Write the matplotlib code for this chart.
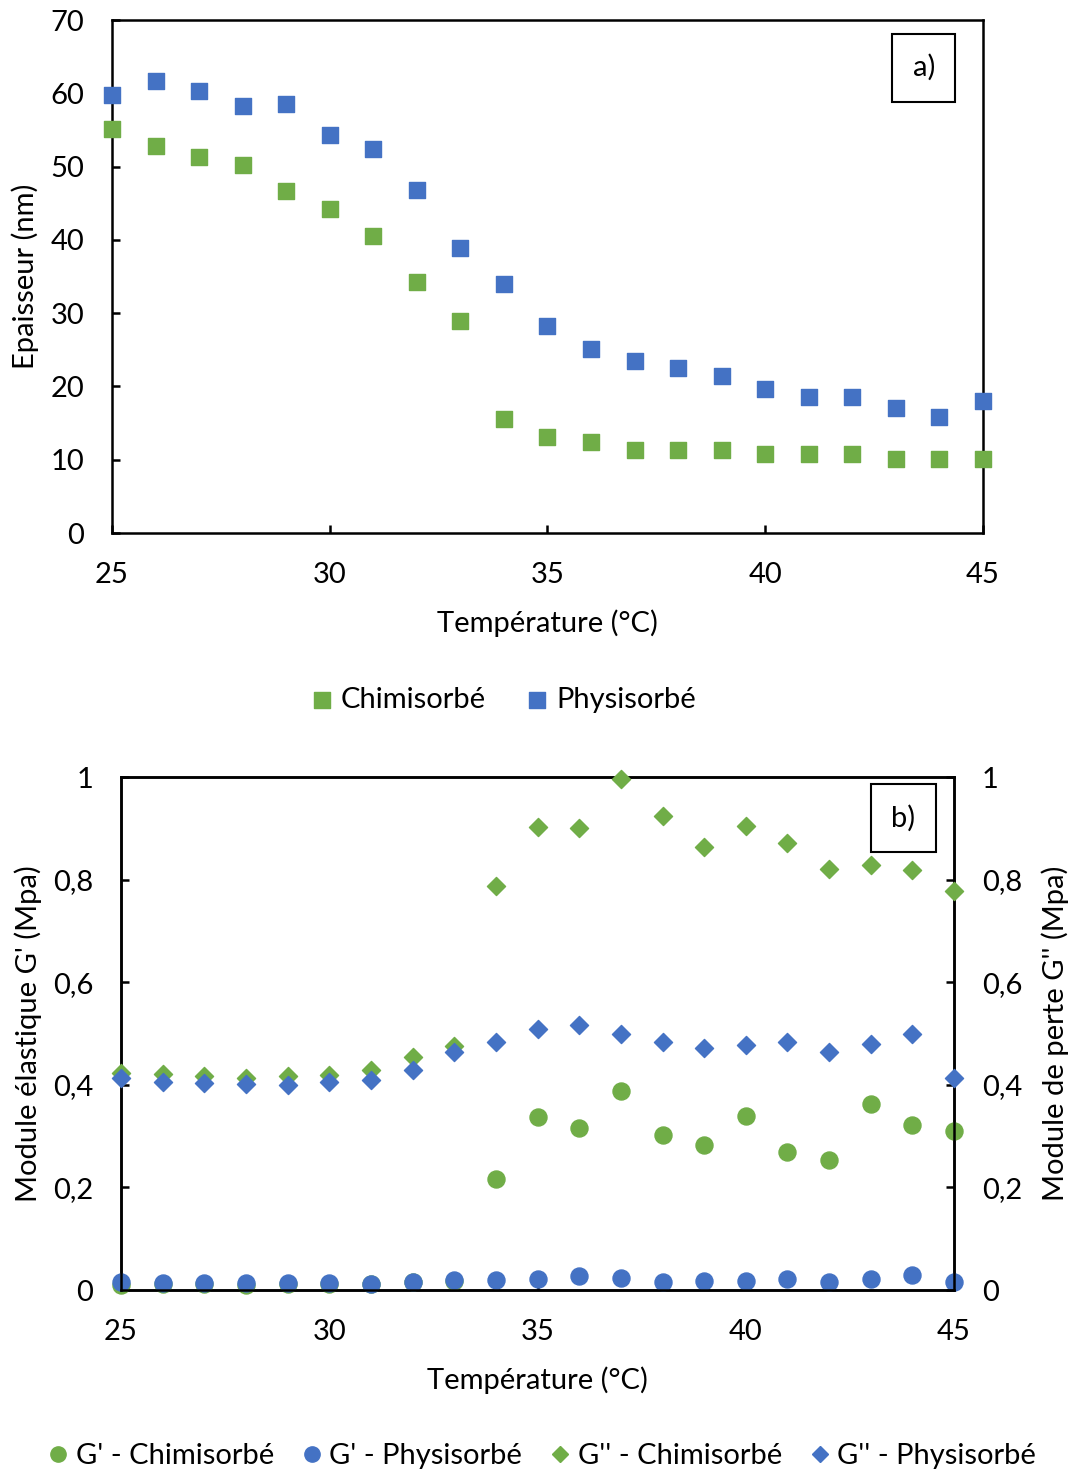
import matplotlib.pyplot as plt
from matplotlib.lines import Line2D

plt.rcParams['font.family'] = ['Lato', 'DejaVu Sans']

GREEN = "#70AD47"
BLUE = "#4472C4"

# ---------------- data ----------------
temp = list(range(25, 46))

# panel a) thickness (nm)
ep_chimi = [55.1, 52.8, 51.3, 50.2, 46.7, 44.2, 40.5, 34.2, 28.9, 15.6, 13.1,
            12.4, 11.3, 11.3, 11.3, 10.8, 10.8, 10.8, 10.1, 10.1, 10.1]
ep_physi = [59.8, 61.7, 60.3, 58.3, 58.5, 54.3, 52.4, 46.8, 38.9, 34.0, 28.2,
            25.1, 23.5, 22.5, 21.4, 19.6, 18.6, 18.6, 17.1, 15.8, 18.0]

# panel b) moduli (MPa)
g1_chimi = [0.010, 0.011, 0.011, 0.010, 0.011, 0.011, 0.012, 0.016, 0.018, 0.216, 0.337,
            0.316, 0.388, 0.302, 0.283, 0.339, 0.269, 0.253, 0.363, 0.322, 0.310]
g1_physi = [0.015, 0.014, 0.014, 0.014, 0.013, 0.014, 0.012, 0.015, 0.019, 0.019, 0.021,
            0.027, 0.023, 0.016, 0.018, 0.018, 0.021, 0.016, 0.021, 0.029, 0.016]
g2_chimi = [0.423, 0.421, 0.417, 0.413, 0.417, 0.419, 0.429, 0.454, 0.476, 0.788, 0.903,
            0.901, 0.996, 0.924, 0.864, 0.905, 0.871, 0.821, 0.828, 0.819, 0.778]
g2_physi = [0.413, 0.405, 0.404, 0.402, 0.400, 0.405, 0.409, 0.429, 0.464, 0.483, 0.509,
            0.517, 0.499, 0.483, 0.472, 0.478, 0.483, 0.464, 0.480, 0.499, 0.413]

FS = 21


def style_box(ax):
    for s in ax.spines.values():
        s.set_linewidth(1.8)
    ax.tick_params(direction="in", length=6, width=1.8, labelsize=FS)
    ax.tick_params(axis="x", pad=21)
    ax.tick_params(axis="y", pad=20)


fig = plt.figure(figsize=(10.75, 14.72), dpi=100)

# ---------------- a) ----------------
ax1 = fig.add_axes([0.1042, 0.6379, 0.8102, 0.3485])
ax1.scatter(temp, ep_chimi, marker="s", s=130, color=GREEN, label="Chimisorbé", zorder=3, clip_on=False)
ax1.scatter(temp, ep_physi, marker="s", s=130, color=BLUE, label="Physisorbé", zorder=3, clip_on=False)
ax1.set_xlim(25, 45)
ax1.set_ylim(0, 70)
ax1.set_xticks([25, 30, 35, 40, 45])
ax1.set_yticks(range(0, 71, 10))
style_box(ax1)
ax1.set_xlabel("Température (°C)", fontsize=FS, labelpad=15)
ax1.set_ylabel("Epaisseur (nm)", fontsize=FS, labelpad=8)
ax1.text(0.932, 0.907, "a)", transform=ax1.transAxes, fontsize=FS, ha="center", va="center",
         bbox=dict(boxstyle="square,pad=0.7", fc="white", ec="black", lw=1.5))
ax1.legend(loc="center", bbox_to_anchor=(0.45, -0.325), ncol=2, frameon=False,
           fontsize=FS, handlelength=0.7, handletextpad=0.3, columnspacing=1.4)

# ---------------- b) ----------------
ax2 = fig.add_axes([0.1126, 0.1236, 0.7749, 0.3485])
ax3 = ax2.twinx()
ax2.scatter(temp, g1_chimi, marker="o", s=150, color=GREEN, zorder=3, clip_on=False)
ax2.scatter(temp, g1_physi, marker="o", s=150, color=BLUE, zorder=4, clip_on=False)
ax3.scatter(temp, g2_chimi, marker="D", s=85, color=GREEN, zorder=3, clip_on=False)
ax3.scatter(temp, g2_physi, marker="D", s=85, color=BLUE, zorder=3, clip_on=False)
for ax in (ax2, ax3):
    ax.set_xlim(25, 45)
    ax.set_ylim(0, 1)
    ax.set_yticks([0, 0.2, 0.4, 0.6, 0.8, 1])
    ax.set_yticklabels(["0", "0,2", "0,4", "0,6", "0,8", "1"])
    style_box(ax)
ax2.set_xticks([25, 30, 35, 40, 45])
ax2.set_xlabel("Température (°C)", fontsize=FS, labelpad=15)
ax2.set_ylabel("Module élastique G' (Mpa)", fontsize=FS, labelpad=8)
ax3.set_ylabel("Module de perte G'' (Mpa)", fontsize=FS, labelpad=14)
ax3.text(0.939, 0.920, "b)", transform=ax3.transAxes, fontsize=FS, ha="center", va="center",
         bbox=dict(boxstyle="square,pad=0.7", fc="white", ec="black", lw=1.5))

handles = [
    Line2D([], [], ls="", marker="o", ms=11, color=GREEN, label="G' - Chimisorbé"),
    Line2D([], [], ls="", marker="o", ms=11, color=BLUE, label="G' - Physisorbé"),
    Line2D([], [], ls="", marker="D", ms=8, color=GREEN, label="G'' - Chimisorbé"),
    Line2D([], [], ls="", marker="D", ms=8, color=BLUE, label="G'' - Physisorbé"),
]
fig.legend(handles=handles, loc="center", bbox_to_anchor=(0.505, 0.011), ncol=4, frameon=False,
           fontsize=FS, handlelength=0.6, handletextpad=0.3, columnspacing=1.0)

fig.savefig("out.png", dpi=100)
